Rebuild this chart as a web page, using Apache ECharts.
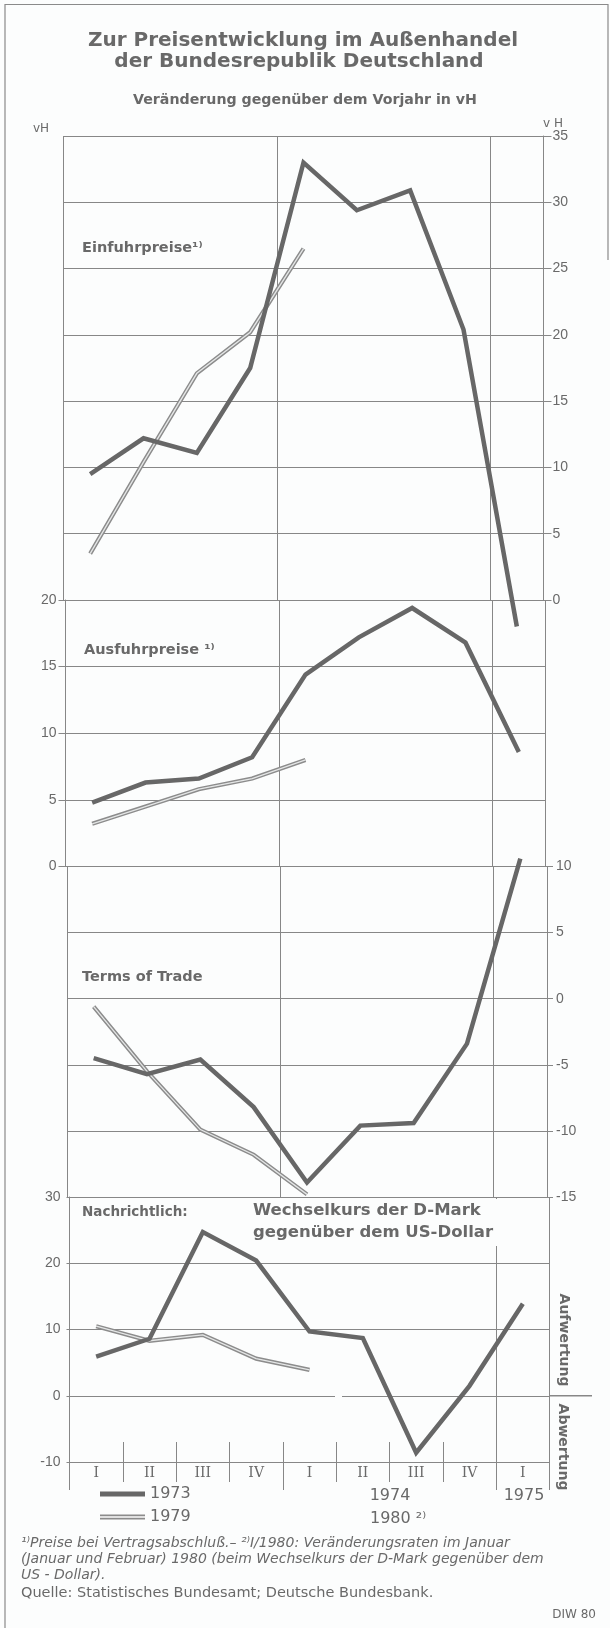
<!DOCTYPE html>
<html lang="de">
<head>
<meta charset="utf-8">
<title>Zur Preisentwicklung im Außenhandel der Bundesrepublik Deutschland</title>
<script src="https://cdn.jsdelivr.net/npm/echarts@6.0.0/dist/echarts.min.js"></script>
<style>
  html, body { margin: 0; padding: 0; background: #fcfdfd; }
  #chart { width: 610px; height: 1628px; }
</style>
</head>
<body>
<div id="chart"></div>
<script>
// Quartale I/1973 .. I/1975 (zweite Linie: I/1979 .. I/1980)
const quarters = ['I', 'II', 'III', 'IV', 'I', 'II', 'III', 'IV', 'I'];
const quarterKeys = ['I/73', 'II/73', 'III/73', 'IV/73', 'I/74', 'II/74', 'III/74', 'IV/74', 'I/75'];

// Veraenderung gegenueber dem Vorjahr in vH
const einfuhr1973 = [9.5, 12.2, 11.1, 17.5, 33.0, 29.4, 30.9, 20.4, -2.0];
const einfuhr1979 = [3.5, 10.4, 17.1, 20.2, 26.5];
const ausfuhr1973 = [4.8, 6.3, 6.6, 8.2, 14.4, 17.2, 19.4, 16.8, 8.6];
const ausfuhr1979 = [3.2, 4.5, 5.8, 6.6, 8.0];
const terms1973 = [-4.5, -5.7, -4.6, -8.2, -13.9, -9.6, -9.4, -3.4, 10.6];
const terms1979 = [-0.6, -5.5, -9.9, -11.8, -14.8];
const kurs1973 = [5.9, 8.6, 24.7, 20.4, 9.7, 8.7, -8.6, 1.5, 13.9];
const kurs1979 = [10.5, 8.3, 9.2, 5.6, 3.9];

const ink = '#676767';
const light = '#8c8c8c';
const gridColor = '#878787';
const textColor = '#696969';
const bg = '#fcfdfd';
const plotWidth = 480;
const numFont = "'Liberation Sans Narrow', 'Liberation Sans', sans-serif";

// the scan is slightly skewed, so each panel sits a bit further right
const panels = [
  {left: 63.5, top: 136, height: 464, min: 0, max: 35, step: 5, side: 'right', tick: 8, v73: einfuhr1973, v79: einfuhr1979, split: [0, 4, 8]},
  {left: 65.5, top: 600, height: 266.5, min: 0, max: 20, step: 5, side: 'left', tick: 7, v73: ausfuhr1973, v79: ausfuhr1979, split: [0, 4, 8]},
  {left: 67, top: 866.5, height: 330.5, min: -15, max: 10, step: 5, side: 'right', tick: 6, v73: terms1973, v79: terms1979, split: [0, 4, 8]},
  {left: 69.5, top: 1197, height: 265, min: -10, max: 30, step: 10, side: 'left', tick: 3, v73: kurs1973, v79: kurs1979, split: [0, 8]}
];

const grids = [], xAxes = [], yAxes = [], series = [];
panels.forEach(function (p, i) {
  grids.push({left: p.left, top: p.top, width: plotWidth, height: p.height, containLabel: false, outerBoundsMode: 'none'});
  const last = i === panels.length - 1;
  xAxes.push({
    gridIndex: i, type: 'category', data: quarterKeys, boundaryGap: true, position: 'bottom',
    axisLine: {show: last, onZero: false, lineStyle: {color: gridColor, width: 1}},
    axisTick: {show: last, length: 20, interval: 0, lineStyle: {color: gridColor}},
    axisLabel: {
      show: last, margin: 4, interval: 0,
      formatter: function (v, idx) { return quarters[idx]; },
      fontFamily: "'DejaVu Serif', serif", fontSize: 14, color: textColor
    },
    splitLine: {show: true, interval: function (idx) { return p.split.indexOf(idx) >= 0; }, lineStyle: {color: gridColor, width: 1}}
  });
  yAxes.push({
    gridIndex: i, type: 'value', position: p.side, min: p.min, max: p.max, interval: p.step,
    axisLine: {show: true, lineStyle: {color: gridColor, width: 1}},
    axisTick: {show: true, length: p.tick, lineStyle: {color: gridColor}},
    axisLabel: {margin: 9, showMinLabel: true, showMaxLabel: true, fontFamily: numFont, fontSize: 14, color: textColor},
    splitLine: {show: true, lineStyle: {color: gridColor, width: 1}}
  });
  series.push({
    name: '1979', type: 'line', xAxisIndex: i, yAxisIndex: i, data: p.v79, symbol: 'none', clip: false,
    lineStyle: {color: light, width: 4.2, join: 'miter'}, itemStyle: {color: light}, z: 2, silent: true
  });
  series.push({
    name: '1979 innen', type: 'line', xAxisIndex: i, yAxisIndex: i, data: p.v79, symbol: 'none', clip: false,
    lineStyle: {color: '#e4e6e6', width: 1.3, join: 'miter'}, itemStyle: {color: '#e4e6e6'}, z: 3, silent: true
  });
  series.push({
    name: '1973', type: 'line', xAxisIndex: i, yAxisIndex: i, data: p.v73, symbol: 'none', clip: false,
    lineStyle: {color: ink, width: 4.5, join: 'miter'}, itemStyle: {color: ink}, z: 4, silent: true
  });
});

// quarter ticks above the bottom axis, and long ticks at the year boundaries
xAxes.push({
  gridIndex: 3, type: 'category', data: quarterKeys, boundaryGap: true, position: 'bottom',
  axisLine: {show: false, onZero: false}, axisLabel: {show: false}, splitLine: {show: false},
  axisTick: {show: true, inside: true, length: 20, interval: 0, lineStyle: {color: gridColor}}
});
xAxes.push({
  gridIndex: 3, type: 'category', data: quarterKeys, boundaryGap: true, position: 'bottom',
  axisLine: {show: false, onZero: false}, axisLabel: {show: false}, splitLine: {show: false},
  axisTick: {show: true, length: 28, interval: function (idx) { return idx === 0 || idx === 4 || idx === 8; }, lineStyle: {color: gridColor}}
});

function label(id, x, y, text, font, align, extra) {
  return {
    type: 'text', id: id, x: x, y: y, z: 100, silent: true,
    style: Object.assign({
      text: text, font: font, fill: textColor,
      textAlign: align || 'left', textVerticalAlign: 'middle',
      align: align || 'left', verticalAlign: 'middle'
    }, extra || {})
  };
}

const sans = "'DejaVu Sans', sans-serif";
const graphics = [
  {type: 'polyline', id: 'rahmen', silent: true, shape: {points: [[5, 1640], [5, 4.5], [608, 4.5], [608, 260]]},
   style: {stroke: '#8a8a8a', lineWidth: 1.2, fill: 'none'}},
  {type: 'rect', id: 'wkDeckung', z: 90, silent: true, shape: {x: 250, y: 1199, width: 256, height: 47}, style: {fill: bg}},
  label('t1', 303, 41, 'Zur Preisentwicklung im Außenhandel', 'bold 20px ' + sans, 'center'),
  label('t2', 299, 62, 'der Bundesrepublik Deutschland', 'bold 20px ' + sans, 'center'),
  label('t3', 305, 100, 'Veränderung gegenüber dem Vorjahr in vH', 'bold 14.2px ' + sans, 'center'),
  label('vhL', 33, 129, 'vH', '12px ' + sans),
  label('vhR', 543, 124, 'v H', '12px ' + sans),
  label('p1', 82, 248, 'Einfuhrpreise¹⁾', 'bold 14.5px ' + sans),
  label('p2', 84, 650, 'Ausfuhrpreise ¹⁾', 'bold 14.5px ' + sans),
  label('p3', 82, 977, 'Terms of Trade', 'bold 14.5px ' + sans),
  label('p4', 82, 1212, 'Nachrichtlich:', 'bold 13.5px ' + sans),
  label('p4a', 253, 1211, 'Wechselkurs der D-Mark', 'bold 16.5px ' + sans),
  label('p4b', 253, 1233, 'gegenüber dem US-Dollar', 'bold 16.5px ' + sans),
  Object.assign(label('auf', 564, 1340, 'Aufwertung', 'bold 14px ' + sans, 'center'), {rotation: -Math.PI / 2}),
  Object.assign(label('ab', 563, 1447, 'Abwertung', 'bold 14px ' + sans, 'center'), {rotation: -Math.PI / 2}),
  label('j74', 390, 1496, '1974', '16px ' + sans, 'center'),
  label('j75', 524, 1496, '1975', '16px ' + sans, 'center'),
  label('j80', 370, 1519, '1980 ²⁾', '16px ' + sans),
  label('f1', 21, 1543, '¹⁾Preise bei Vertragsabschluß.– ²⁾I/1980: Veränderungsraten im Januar', 'italic 14px ' + sans),
  label('f2', 21, 1559, '(Januar und Februar) 1980 (beim Wechselkurs der D-Mark gegenüber dem', 'italic 14px ' + sans),
  label('f3', 21, 1575, 'US - Dollar).', 'italic 14px ' + sans),
  label('q', 21, 1593, 'Quelle: Statistisches Bundesamt; Deutsche Bundesbank.', '14.5px ' + sans),
  label('diw', 596, 1615, 'DIW 80', '12px ' + sans, 'right')
];

const chart = echarts.init(document.getElementById('chart'));
chart.setOption({
  backgroundColor: bg,
  animation: false,
  grid: grids,
  xAxis: xAxes,
  yAxis: yAxes,
  series: series,
  legend: {
    orient: 'vertical', left: 100, top: 1486, padding: 0, itemGap: 7,
    itemWidth: 45, itemHeight: 5, selectedMode: false,
    data: [
      {name: '1973', icon: 'rect'},
      {name: '1979', icon: 'path://M0,0H45V1.6H0ZM0,3.2H45V4.8H0Z'}
    ],
    textStyle: {fontFamily: sans, fontSize: 16, color: textColor}
  },
  graphic: graphics
});

// zero line of the exchange-rate panel runs past the frame, with a small gap
const zeroY = chart.convertToPixel({yAxisIndex: 3}, 0);
const frameRight = panels[3].left + plotWidth;
chart.setOption({
  graphic: [
    {type: 'line', id: 'nullAus', silent: true, shape: {x1: frameRight, y1: zeroY, x2: 592, y2: zeroY}, style: {stroke: gridColor, lineWidth: 1.3}},
    {type: 'line', id: 'nullLuecke', z: 50, silent: true, shape: {x1: 335, y1: zeroY, x2: 342, y2: zeroY}, style: {stroke: bg, lineWidth: 3}}
  ]
});
</script>
</body>
</html>
